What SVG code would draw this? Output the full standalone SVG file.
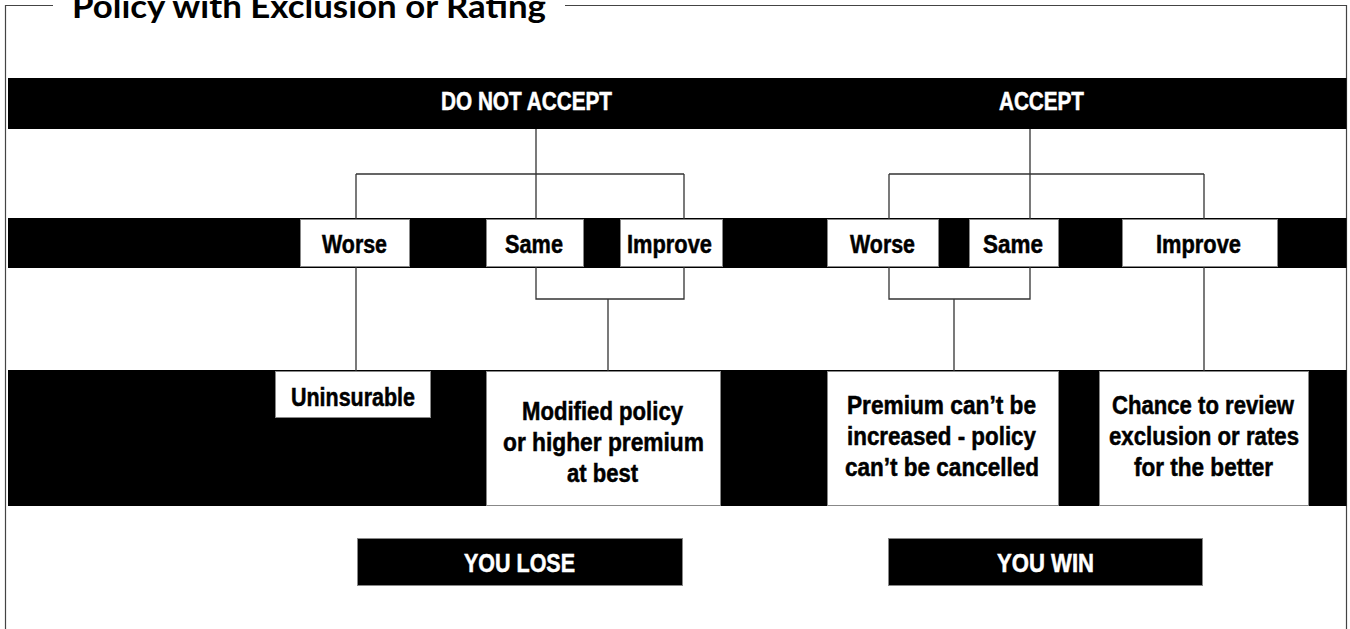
<svg xmlns="http://www.w3.org/2000/svg" width="1350" height="629" viewBox="0 0 1350 629">
<style>
.frame{fill:none;stroke:#444;stroke-width:1.2}
.band{fill:#000}
.box{fill:#fff;stroke:#888;stroke-width:1}
.dbox{fill:#000;stroke:#888;stroke-width:1}
.conn{fill:none;stroke:#333;stroke-width:1.3}
.t{font-family:"Liberation Sans",Arial,sans-serif;font-weight:bold;font-size:25px;stroke-width:0.5}
.w{fill:#fff;stroke:#fff}
.k{fill:#000;stroke:#000}
.title{font-family:Lato,"Open Sans",sans-serif;font-weight:bold;font-size:32px;fill:#000}
</style>
<rect width="1350" height="629" fill="#fff"/>
<g id="frame">
<path class="frame" d="M5.5 629 V5.5 H53 M565 5.5 H1346.5 V629"/>
<text class="title" x="72" y="18" textLength="474" lengthAdjust="spacingAndGlyphs">Policy with Exclusion or Rating</text>
</g>
<g id="bands">
<rect class="band" x="8" y="78" width="1338.5" height="51"/>
<rect class="band" x="8" y="218" width="1338.5" height="50"/>
<rect class="band" x="8" y="370" width="1338.5" height="136"/>
</g>
<g id="connectors">
<path class="conn" d="M536 129 V219 M356 174 H684 M356 174 V219 M684 174 V219"/>
<path class="conn" d="M1030 129 V219 M889 174 H1204 M889 174 V219 M1204 174 V219"/>
<path class="conn" d="M356 267 V371 M536 267 V299 H684 V267 M608 299 V371"/>
<path class="conn" d="M889 267 V299 H1030 V267 M954 299 V371 M1204 267 V371"/>
</g>
<g id="do-not-accept">
<text class="t w" x="441" y="110" textLength="171" lengthAdjust="spacingAndGlyphs">DO NOT ACCEPT</text>
</g>
<g id="accept">
<text class="t w" x="999" y="110" textLength="85" lengthAdjust="spacingAndGlyphs">ACCEPT</text>
</g>
<g id="worse-left">
<rect class="box" x="300.5" y="219.5" width="109" height="47"/>
<text class="t k" x="322" y="253" textLength="65" lengthAdjust="spacingAndGlyphs">Worse</text>
</g>
<g id="same-left">
<rect class="box" x="486.5" y="219.5" width="97" height="47"/>
<text class="t k" x="505" y="253" textLength="58" lengthAdjust="spacingAndGlyphs">Same</text>
</g>
<g id="improve-left">
<rect class="box" x="620.5" y="219.5" width="102" height="47"/>
<text class="t k" x="627" y="253" textLength="85" lengthAdjust="spacingAndGlyphs">Improve</text>
</g>
<g id="worse-right">
<rect class="box" x="827.5" y="219.5" width="111" height="47"/>
<text class="t k" x="850" y="253" textLength="65" lengthAdjust="spacingAndGlyphs">Worse</text>
</g>
<g id="same-right">
<rect class="box" x="969.5" y="219.5" width="89" height="47"/>
<text class="t k" x="983" y="253" textLength="60" lengthAdjust="spacingAndGlyphs">Same</text>
</g>
<g id="improve-right">
<rect class="box" x="1122.5" y="219.5" width="155" height="47"/>
<text class="t k" x="1156" y="253" textLength="85" lengthAdjust="spacingAndGlyphs">Improve</text>
</g>
<g id="uninsurable">
<rect class="box" x="275.5" y="371.5" width="155" height="46"/>
<text class="t k" x="291" y="406" textLength="124" lengthAdjust="spacingAndGlyphs">Uninsurable</text>
</g>
<g id="modified">
<rect class="box" x="486.5" y="371.5" width="234" height="134"/>
<text class="t k" x="522" y="420" textLength="161" lengthAdjust="spacingAndGlyphs">Modified policy</text>
<text class="t k" x="503" y="451" textLength="201" lengthAdjust="spacingAndGlyphs">or higher premium</text>
<text class="t k" x="567" y="482" textLength="71" lengthAdjust="spacingAndGlyphs">at best</text>
</g>
<g id="premium">
<rect class="box" x="827.5" y="371.5" width="231" height="134"/>
<text class="t k" x="847" y="414" textLength="189" lengthAdjust="spacingAndGlyphs">Premium can’t be</text>
<text class="t k" x="847" y="445" textLength="189" lengthAdjust="spacingAndGlyphs">increased - policy</text>
<text class="t k" x="845" y="476" textLength="194" lengthAdjust="spacingAndGlyphs">can’t be cancelled</text>
</g>
<g id="chance">
<rect class="box" x="1099.5" y="371.5" width="209" height="134"/>
<text class="t k" x="1112" y="414" textLength="182" lengthAdjust="spacingAndGlyphs">Chance to review</text>
<text class="t k" x="1109" y="445" textLength="190" lengthAdjust="spacingAndGlyphs">exclusion or rates</text>
<text class="t k" x="1134" y="476" textLength="139" lengthAdjust="spacingAndGlyphs">for the better</text>
</g>
<g id="you-lose">
<rect class="dbox" x="357.5" y="538.5" width="325" height="47"/>
<text class="t w" x="464" y="572" textLength="111" lengthAdjust="spacingAndGlyphs" style="font-size:26px">YOU LOSE</text>
</g>
<g id="you-win">
<rect class="dbox" x="888.5" y="538.5" width="314" height="47"/>
<text class="t w" x="997" y="572" textLength="97" lengthAdjust="spacingAndGlyphs" style="font-size:26px">YOU WIN</text>
</g>
</svg>
